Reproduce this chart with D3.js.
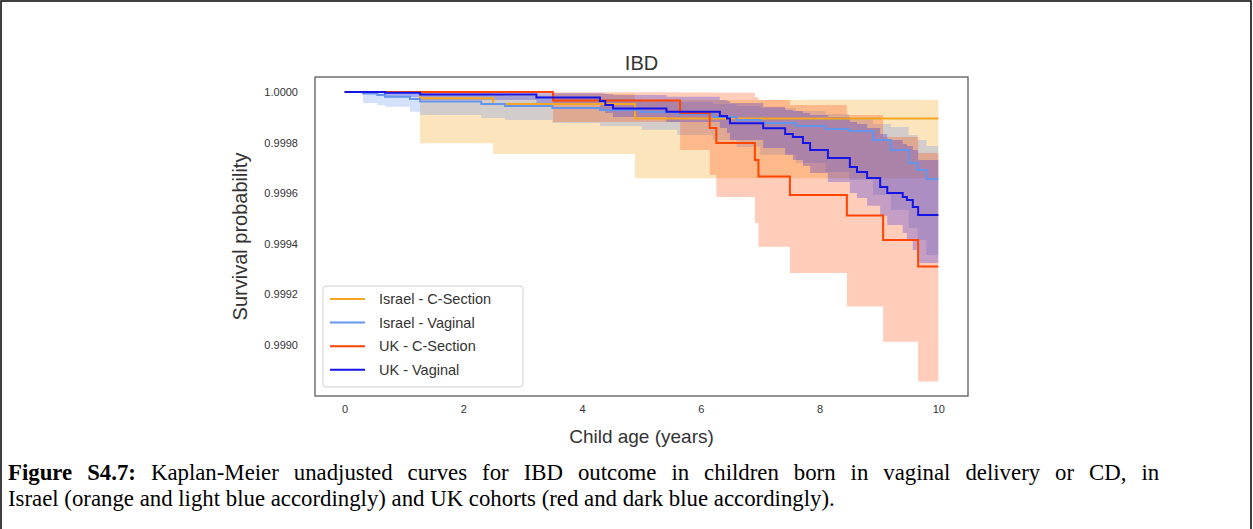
<!DOCTYPE html>
<html><head><meta charset="utf-8">
<script src="https://cdn.jsdelivr.net/npm/d3@7"></script>
<style>
html,body{margin:0;padding:0;background:#fff;}
svg{display:block;}
</style></head>
<body>
<svg id="chart" width="1253" height="529"></svg>
<script>
// ---------------- DATA ----------------
const chartTitle = "IBD";
const xLabel = "Child age (years)";
const yLabel = "Survival probability";
const xTicks = [0, 2, 4, 6, 8, 10];
const yTicks = [0.9990, 0.9992, 0.9994, 0.9996, 0.9998, 1.0000];
const followUpEnd = 10;
const seriesNames = ["Israel - C-Section", "Israel - Vaginal", "UK - C-Section", "UK - Vaginal"];

// Israel - C-Section
const israelCS_t  = [0, 1.27, 2.5, 4.89];
const israelCS_s  = [1, 0.999975, 0.999952, 0.999895];
const israelCS_lo = [1, 0.999797, 0.999754, 0.999658];
const israelCS_hi = [1, 0.999998, 0.999992, 0.999968];

// Israel - Vaginal
const israelV_t  = [0, 0.31, 0.55, 0.68, 1.1, 1.27, 2.3, 2.7, 3.5, 4.3, 5.0, 5.6, 6.2, 6.6, 7.0, 7.6, 8.1, 8.5, 8.9, 9.2, 9.5, 9.65, 9.8];
const israelV_s  = [1, 0.999994, 0.999988, 0.999981, 0.999972, 0.999962, 0.999952, 0.999945, 0.999937, 0.999929, 0.999921, 0.999913, 0.999901, 0.999889, 0.999877, 0.999865, 0.999853, 0.999846, 0.99981, 0.99977, 0.999719, 0.999691, 0.999655];
const israelV_lo = [1, 0.999956, 0.999949, 0.999942, 0.999922, 0.999909, 0.999897, 0.999889, 0.999877, 0.999865, 0.99985, 0.99983, 0.99981, 0.999782, 0.999751, 0.999719, 0.999683, 0.999651, 0.999592, 0.999533, 0.999461, 0.999414, 0.999354];
const israelV_hi = [1, 1, 0.999999, 0.999998, 0.999996, 0.999994, 0.999988, 0.999984, 0.99998, 0.999972, 0.999968, 0.99996, 0.999952, 0.999945, 0.999937, 0.999925, 0.999913, 0.999897, 0.999873, 0.999861, 0.99983, 0.99981, 0.999786];

// UK - C-Section
const ukCS_t  = [0, 3.51, 5.65, 6.15, 6.26, 6.91, 6.97, 7.5, 8.46, 9.07, 9.66];
const ukCS_s  = [1, 0.999966, 0.999917, 0.999857, 0.999798, 0.999731, 0.999665, 0.999592, 0.999511, 0.999414, 0.999309];
const ukCS_lo = [1, 0.999881, 0.99977, 0.999671, 0.999584, 0.999481, 0.999387, 0.999283, 0.99915, 0.999011, 0.998853];
const ukCS_hi = [1, 0.999999, 0.999998, 0.999998, 0.999997, 0.99998, 0.999968, 0.999949, 0.999909, 0.999822, 0.999758];

// UK - Vaginal
const ukV_t  = [0, 0.68, 1.27, 3.23, 4.30, 4.39, 4.52, 5.42, 6.32, 6.44, 6.49, 7.05, 7.42, 7.55, 7.72, 7.84, 8.14, 8.51, 8.63, 8.80, 9.02, 9.14, 9.40, 9.47, 9.57, 9.66];
const ukV_s  = [1, 0.999997, 0.99999, 0.999978, 0.999964, 0.999949, 0.999935, 0.999922, 0.999905, 0.999895, 0.999876, 0.999856, 0.999834, 0.999822, 0.999798, 0.99977, 0.999739, 0.999703, 0.999683, 0.999659, 0.999624, 0.9996, 0.999584, 0.999572, 0.999545, 0.999513];
const ukV_lo = [1, 0.99998, 0.999968, 0.999952, 0.999929, 0.999917, 0.999901, 0.999881, 0.999857, 0.999838, 0.99981, 0.999778, 0.999751, 0.999731, 0.999707, 0.999679, 0.999644, 0.9996, 0.99958, 0.999549, 0.999509, 0.999473, 0.999442, 0.999414, 0.999374, 0.999323];
const ukV_hi = [1, 1, 0.999999, 0.999996, 0.999995, 0.999992, 0.999988, 0.999981, 0.999968, 0.999964, 0.999956, 0.999942, 0.999929, 0.999925, 0.999917, 0.999909, 0.999901, 0.999881, 0.999873, 0.999857, 0.999834, 0.99981, 0.999794, 0.999786, 0.99977, 0.999731];

const captionBold = "Figure S4.7:";
const captionLine1 = " Kaplan-Meier unadjusted curves for IBD outcome in children born in vaginal delivery or CD, in";
const captionLine2 = "Israel (orange and light blue accordingly) and UK cohorts (red and dark blue accordingly).";

// ---------------- BUILD ----------------
const colors = ["#F5A623", "#6495ED", "#FF4500", "#1414E6"];
const fillAlpha = [0.3, 0.28, 0.27, 0.25];

function buildSeries(t, s, lo, hi) {
  const pts = t.map((d, i) => ({t: d, s: s[i], lo: lo[i], hi: hi[i]}));
  const last = pts[pts.length - 1];
  pts.push({t: followUpEnd, s: last.s, lo: last.lo, hi: last.hi});
  return pts;
}
const series = [
  buildSeries(israelCS_t, israelCS_s, israelCS_lo, israelCS_hi),
  buildSeries(israelV_t, israelV_s, israelV_lo, israelV_hi),
  buildSeries(ukCS_t, ukCS_s, ukCS_lo, ukCS_hi),
  buildSeries(ukV_t, ukV_s, ukV_lo, ukV_hi)
];

const svg = d3.select("#chart");
const W = 1253, H = 529;
const plot = {left: 315, top: 77, right: 968, bottom: 396};

// outer frame (document table cell)
svg.append("path").attr("d", `M1,${H} L1,1 L1251,1 L1251,${H}`)
  .attr("fill", "none").attr("stroke", "#000").attr("stroke-width", 1.5);

const x = d3.scaleLinear().domain([-0.5, 10.5]).range([plot.left, plot.right]);
const y = d3.scaleLinear().domain([0.998796, 1.0000594]).range([plot.bottom, plot.top]);

const font = "'Liberation Sans', Arial, sans-serif";

svg.append("clipPath").attr("id", "clip").append("rect")
  .attr("x", plot.left).attr("y", plot.top)
  .attr("width", plot.right - plot.left).attr("height", plot.bottom - plot.top);

const g = svg.append("g").attr("clip-path", "url(#clip)");

const area = d3.area().curve(d3.curveStepAfter)
  .x(d => x(d.t)).y0(d => y(d.lo)).y1(d => y(d.hi));
const line = d3.line().curve(d3.curveStepAfter)
  .x(d => x(d.t)).y(d => y(d.s));

series.forEach((pts, i) => {
  g.append("path").attr("d", area(pts))
    .attr("fill", colors[i]).attr("fill-opacity", fillAlpha[i]).attr("stroke", "none");
});
series.forEach((pts, i) => {
  g.append("path").attr("d", line(pts))
    .attr("fill", "none").attr("stroke", colors[i]).attr("stroke-width", 2);
});

// frame
svg.append("rect").attr("x", plot.left).attr("y", plot.top)
  .attr("width", plot.right - plot.left).attr("height", plot.bottom - plot.top)
  .attr("fill", "none").attr("stroke", "#5a5a5a").attr("stroke-width", 1.3);

// axes
const xAxis = svg.append("g").attr("transform", `translate(0,${plot.bottom})`)
  .call(d3.axisBottom(x).tickValues(xTicks).tickSize(0).tickPadding(9).tickFormat(d3.format("d")));
const yAxis = svg.append("g").attr("transform", `translate(${plot.left},0)`)
  .call(d3.axisLeft(y).tickValues(yTicks).tickSize(0).tickPadding(17).tickFormat(d3.format(".4f")));
[xAxis, yAxis].forEach(a => {
  a.select(".domain").remove();
  a.selectAll("text").attr("font-family", font).attr("font-size", 11).attr("fill", "#333");
});

// title & labels
svg.append("text").attr("x", (plot.left + plot.right) / 2).attr("y", 70)
  .attr("text-anchor", "middle").attr("font-family", font).attr("font-size", 20)
  .attr("fill", "#333").text(chartTitle);
svg.append("text").attr("x", (plot.left + plot.right) / 2).attr("y", 443)
  .attr("text-anchor", "middle").attr("font-family", font).attr("font-size", 19)
  .attr("fill", "#333").text(xLabel);
svg.append("text").attr("transform", `translate(247,${(plot.top + plot.bottom) / 2}) rotate(-90)`)
  .attr("text-anchor", "middle").attr("font-family", font).attr("font-size", 20)
  .attr("fill", "#333").text(yLabel);

// legend
const lg = svg.append("g");
lg.append("rect").attr("x", 323).attr("y", 286).attr("width", 200).attr("height", 101)
  .attr("rx", 3).attr("fill", "#fff").attr("fill-opacity", 0.85)
  .attr("stroke", "#d0d0d0").attr("stroke-width", 1);
seriesNames.forEach((n, i) => {
  const yy = 299 + i * 23.6;
  lg.append("line").attr("x1", 330).attr("x2", 365).attr("y1", yy).attr("y2", yy)
    .attr("stroke", colors[i]).attr("stroke-width", 2);
  lg.append("text").attr("x", 379).attr("y", yy + 5).attr("font-family", font)
    .attr("font-size", 14.5).attr("fill", "#333").text(n);
});

// caption (first line justified to the cell width)
const serif = "'Liberation Serif', 'Times New Roman', serif";
const c1 = svg.append("text").attr("x", 8).attr("y", 480).attr("font-family", serif)
  .attr("font-size", 22.8).attr("fill", "#000").attr("word-spacing", "9.3px");
c1.append("tspan").attr("font-weight", "bold").text(captionBold);
c1.append("tspan").text(captionLine1);
svg.append("text").attr("x", 8).attr("y", 506).attr("font-family", serif)
  .attr("font-size", 22.8).attr("fill", "#000").text(captionLine2);
</script>
</body></html>
